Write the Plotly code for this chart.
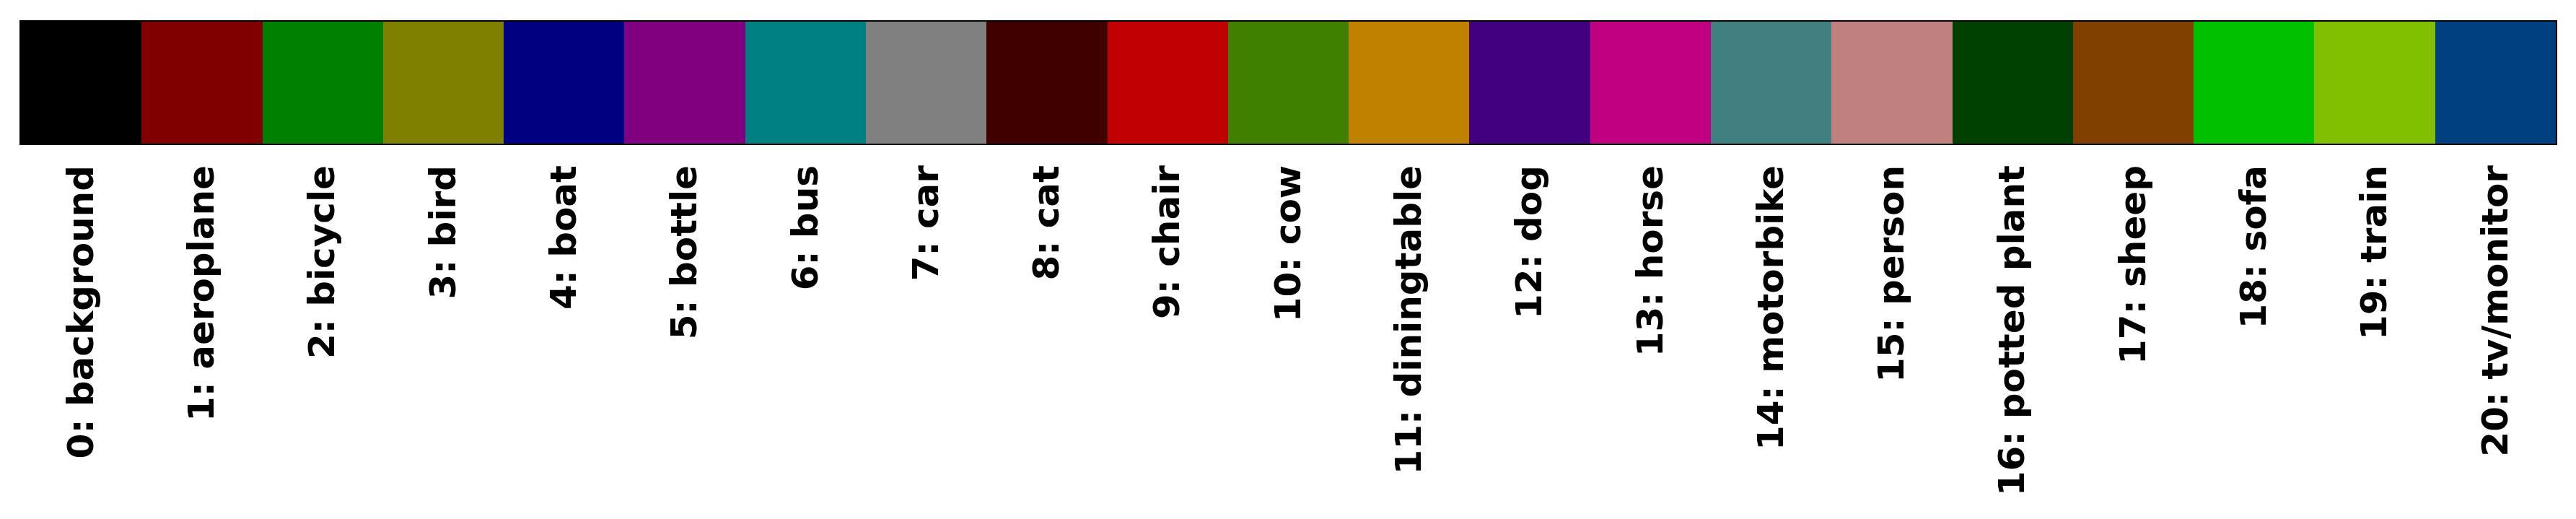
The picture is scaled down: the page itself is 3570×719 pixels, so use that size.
import plotly.graph_objects as go

class_ids = list(range(21))
class_names = ["background", "aeroplane", "bicycle", "bird", "boat", "bottle", "bus", "car",
               "cat", "chair", "cow", "diningtable", "dog", "horse", "motorbike", "person",
               "potted plant", "sheep", "sofa", "train", "tv/monitor"]
red = [0, 128, 0, 128, 0, 128, 0, 128, 64, 192, 64, 192, 64, 192, 64, 192, 0, 128, 0, 128, 0]
green = [0, 0, 128, 128, 0, 0, 128, 128, 0, 0, 128, 128, 0, 0, 128, 128, 64, 64, 192, 192, 64]
blue = [0, 0, 0, 0, 128, 128, 128, 128, 0, 0, 0, 0, 128, 128, 128, 128, 0, 0, 0, 0, 128]
bar_height = [1] * 21

colors = [f"rgb({r},{g},{b})" for r, g, b in zip(red, green, blue)]
tick_text = [f"{i}: {n}" for i, n in zip(class_ids, class_names)]

fig = go.Figure(go.Bar(
    x=class_ids, y=bar_height, width=1,
    marker=dict(color=colors, line=dict(width=0)),
    hoverinfo="skip",
))

fig.update_layout(
    width=3570, height=719,
    margin=dict(l=21, r=36, t=22, b=528),
    plot_bgcolor="white", paper_bgcolor="white",
    showlegend=False, bargap=0,
)
fig.update_xaxes(
    range=[-0.5, 20.5], tickvals=class_ids, ticktext=tick_text, tickangle=-90,
    tickfont=dict(family="DejaVu Sans", size=50, color="black", weight="bold"),
    ticks="", ticklabelstandoff=8,
    showline=True, linecolor="black", linewidth=2, mirror=True,
    showgrid=False, zeroline=False,
)
fig.update_yaxes(
    range=[0, 1], showticklabels=False, ticks="",
    showline=True, linecolor="black", linewidth=2, mirror=True,
    showgrid=False, zeroline=False,
)

fig.write_html("out.html")
